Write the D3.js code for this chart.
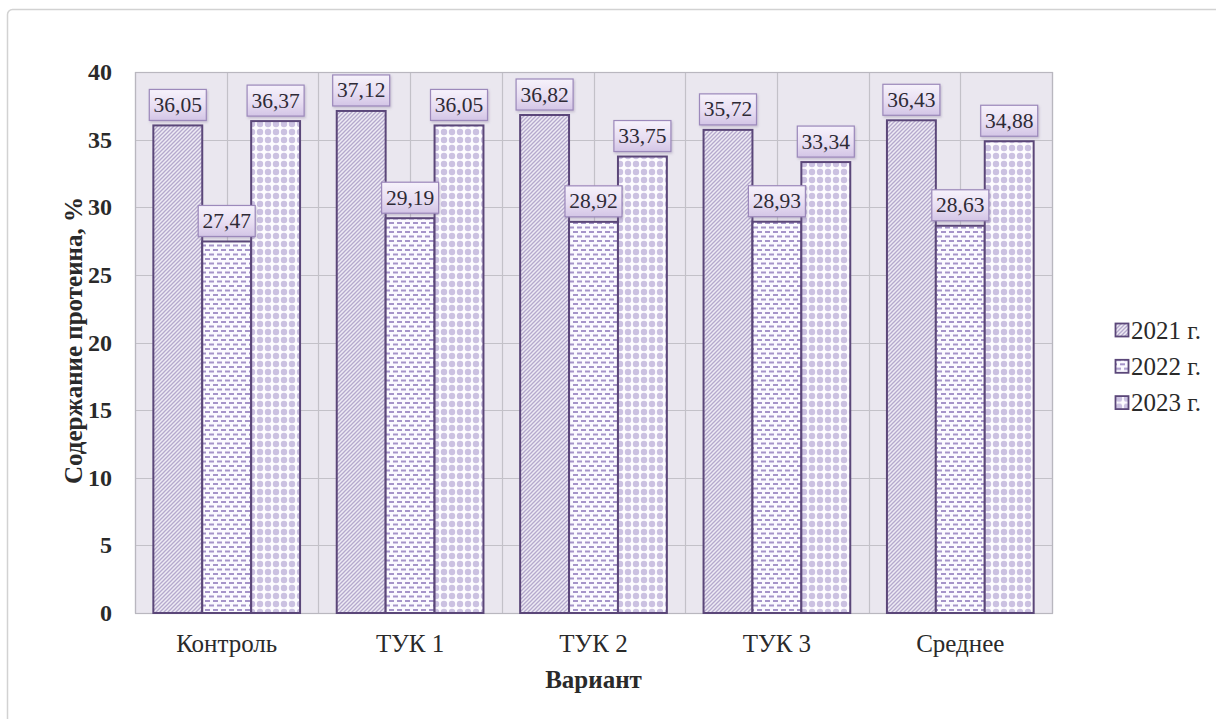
<!DOCTYPE html>
<html>
<head>
<meta charset="utf-8">
<script src="https://cdn.jsdelivr.net/npm/d3@7"></script>
<style>
  html, body { margin: 0; padding: 0; background: #ffffff; }
  svg { display: block; }
  text { font-family: "Liberation Serif", "Times New Roman", serif; }
</style>
</head>
<body>
<svg id="chart" width="1216" height="719"></svg>
<script>
// Protein content by fertilizer variant, three seasons
const categories = ["Контроль", "ТУК 1", "ТУК 2", "ТУК 3", "Среднее"];
const seriesNames = ["2021 г.", "2022 г.", "2023 г."];
const values2021 = [36.05, 37.12, 36.82, 35.72, 36.43];
const values2022 = [27.47, 29.19, 28.92, 28.93, 28.63];
const values2023 = [36.37, 36.05, 33.75, 33.34, 34.88];
const yTicks = [0, 5, 10, 15, 20, 25, 30, 35, 40];
const yTitle = "Содержание протеина, %";
const xTitle = "Вариант";

const series = [values2021, values2022, values2023];
const patternIds = ["pat-diag", "pat-dash", "pat-dots"];

const svg = d3.select("#chart");
const W = 1216, H = 719;
const plot = { left: 135, right: 1052, top: 72, bottom: 613 };

// outer frame of the chart area
svg.append("rect")
  .attr("x", 7.5).attr("y", 9.5)
  .attr("width", W + 20).attr("height", H + 20)
  .attr("rx", 5)
  .attr("fill", "#ffffff")
  .attr("stroke", "#d2d2d2")
  .attr("stroke-width", 1.5);

const defs = svg.append("defs");

// wide upward diagonal hatch
const pDiag = defs.append("pattern")
  .attr("id", "pat-diag").attr("patternUnits", "userSpaceOnUse")
  .attr("width", 4).attr("height", 4);
pDiag.append("rect").attr("width", 4).attr("height", 4).attr("fill", "#eeebf4");
pDiag.append("path")
  .attr("d", "M-1,1 L1,-1 M0,4 L4,0 M3,5 L5,3")
  .attr("stroke", "#b5a9cd").attr("stroke-width", 1.3);

// staggered short dashes
const pDash = defs.append("pattern")
  .attr("id", "pat-dash").attr("patternUnits", "userSpaceOnUse")
  .attr("width", 8).attr("height", 9);
pDash.append("rect").attr("width", 8).attr("height", 9).attr("fill", "#fbfaff");
pDash.append("rect").attr("x", 1).attr("y", 1.5).attr("width", 5).attr("height", 2).attr("fill", "#a594c9");
pDash.append("rect").attr("x", 5).attr("y", 6).attr("width", 5).attr("height", 2).attr("fill", "#a594c9");
pDash.append("rect").attr("x", -3).attr("y", 6).attr("width", 5).attr("height", 2).attr("fill", "#a594c9");

// large dotted grid
const pDots = defs.append("pattern")
  .attr("id", "pat-dots").attr("patternUnits", "userSpaceOnUse")
  .attr("width", 8).attr("height", 8);
pDots.append("rect").attr("width", 8).attr("height", 8).attr("fill", "#fdfcff");
pDots.append("circle").attr("cx", 4).attr("cy", 4).attr("r", 3.2).attr("fill", "#cbc1e1");

// label box gradient
const grad = defs.append("linearGradient")
  .attr("id", "label-grad").attr("x1", 0).attr("y1", 0).attr("x2", 0).attr("y2", 1);
grad.append("stop").attr("offset", "0%").attr("stop-color", "#f6f2fb");
grad.append("stop").attr("offset", "55%").attr("stop-color", "#e8def2");
grad.append("stop").attr("offset", "100%").attr("stop-color", "#d3c5e6");

const shadow = defs.append("filter").attr("id", "label-shadow")
  .attr("x", "-20%").attr("y", "-20%").attr("width", "140%").attr("height", "150%");
shadow.append("feDropShadow").attr("dx", 1).attr("dy", 1.5).attr("stdDeviation", 1.2)
  .attr("flood-color", "#7a6a92").attr("flood-opacity", 0.35);

// scales
const y = d3.scaleLinear().domain([0, 40]).range([plot.bottom, plot.top]);
const x0 = d3.scaleBand().domain(categories).range([plot.left, plot.right]).paddingInner(0).paddingOuter(0);
const step = x0.bandwidth();
const x1 = d3.scaleBand().domain(d3.range(series.length)).range([step * 0.1, step * 0.9]).padding(0);

// plot background
svg.append("rect")
  .attr("x", plot.left).attr("y", plot.top)
  .attr("width", plot.right - plot.left).attr("height", plot.bottom - plot.top)
  .attr("fill", "#eae7ef");

// horizontal grid
svg.append("g")
  .selectAll("line").data(yTicks).join("line")
  .attr("x1", plot.left).attr("x2", plot.right)
  .attr("y1", d => Math.round(y(d)) + 0.5).attr("y2", d => Math.round(y(d)) + 0.5)
  .attr("stroke", "#c3c1c8").attr("stroke-width", 1.2);

// vertical grid at category edges and centres
const vLines = [];
categories.forEach(c => { vLines.push(x0(c)); vLines.push(x0(c) + step / 2); });
vLines.push(plot.right);
svg.append("g")
  .selectAll("line").data(vLines).join("line")
  .attr("x1", d => Math.round(d) + 0.5).attr("x2", d => Math.round(d) + 0.5)
  .attr("y1", plot.top).attr("y2", plot.bottom)
  .attr("stroke", "#c3c1c8").attr("stroke-width", 1.2);

// plot frame
svg.append("rect")
  .attr("x", plot.left + 0.5).attr("y", plot.top + 0.5)
  .attr("width", plot.right - plot.left).attr("height", plot.bottom - plot.top)
  .attr("fill", "none").attr("stroke", "#b9b7bf").attr("stroke-width", 1.2);

// bars
const barData = [];
categories.forEach((c, ci) => {
  series.forEach((s, si) => barData.push({ c, si, v: s[ci] }));
});

const bars = svg.append("g");
bars.selectAll("rect").data(barData).join("rect")
  .attr("x", d => x0(d.c) + x1(d.si))
  .attr("y", d => y(d.v))
  .attr("width", x1.bandwidth())
  .attr("height", d => y(0) - y(d.v))
  .attr("fill", d => `url(#${patternIds[d.si]})`)
  .attr("stroke", "#5b4779").attr("stroke-width", 2);

// value labels
const fmt = v => d3.format(".2f")(v).replace(".", ",");
const lab = svg.append("g").selectAll("g").data(barData).join("g")
  .attr("transform", d => `translate(${x0(d.c) + x1(d.si) + x1.bandwidth() / 2},${y(d.v) - 4})`);
lab.append("rect")
  .attr("x", -28.5).attr("y", -32).attr("width", 57).attr("height", 31)
  .attr("fill", "url(#label-grad)")
  .attr("stroke", "#9c89bb").attr("stroke-width", 1.2)
  .attr("filter", "url(#label-shadow)");
lab.append("text")
  .attr("x", 0).attr("y", -9.5)
  .attr("text-anchor", "middle")
  .attr("font-size", 21.5)
  .attr("fill", "#2e2a36")
  .text(d => fmt(d.v));

// y tick labels
svg.append("g").selectAll("text").data(yTicks).join("text")
  .attr("x", 112).attr("y", d => y(d) + 8)
  .attr("text-anchor", "end")
  .attr("font-size", 24).attr("font-weight", "bold")
  .attr("fill", "#2a2a2a")
  .text(d => d);

// x category labels
svg.append("g").selectAll("text").data(categories).join("text")
  .attr("x", d => x0(d) + step / 2).attr("y", 652)
  .attr("text-anchor", "middle")
  .attr("font-size", 25)
  .attr("fill", "#2a2a2a")
  .text(d => d);

// axis titles
svg.append("text")
  .attr("x", (plot.left + plot.right) / 2).attr("y", 688)
  .attr("text-anchor", "middle")
  .attr("font-size", 25).attr("font-weight", "bold")
  .attr("fill", "#2a2a2a")
  .text(xTitle);

svg.append("text")
  .attr("transform", `translate(82,${(plot.top + plot.bottom) / 2 - 2}) rotate(-90)`)
  .attr("text-anchor", "middle")
  .attr("font-size", 25).attr("font-weight", "bold")
  .attr("fill", "#2a2a2a")
  .text(yTitle);

// legend
const legend = svg.append("g").selectAll("g").data(seriesNames).join("g")
  .attr("transform", (d, i) => `translate(1115,${330 + i * 36.3})`);
legend.append("rect")
  .attr("x", 0.5).attr("y", -6.5).attr("width", 13).attr("height", 13)
  .attr("fill", (d, i) => `url(#${patternIds[i]})`)
  .attr("stroke", "#5b4779").attr("stroke-width", 1.8);
legend.append("text")
  .attr("x", 16).attr("y", 8.5)
  .attr("font-size", 25)
  .attr("fill", "#2a2a2a")
  .text(d => d);
</script>
</body>
</html>
